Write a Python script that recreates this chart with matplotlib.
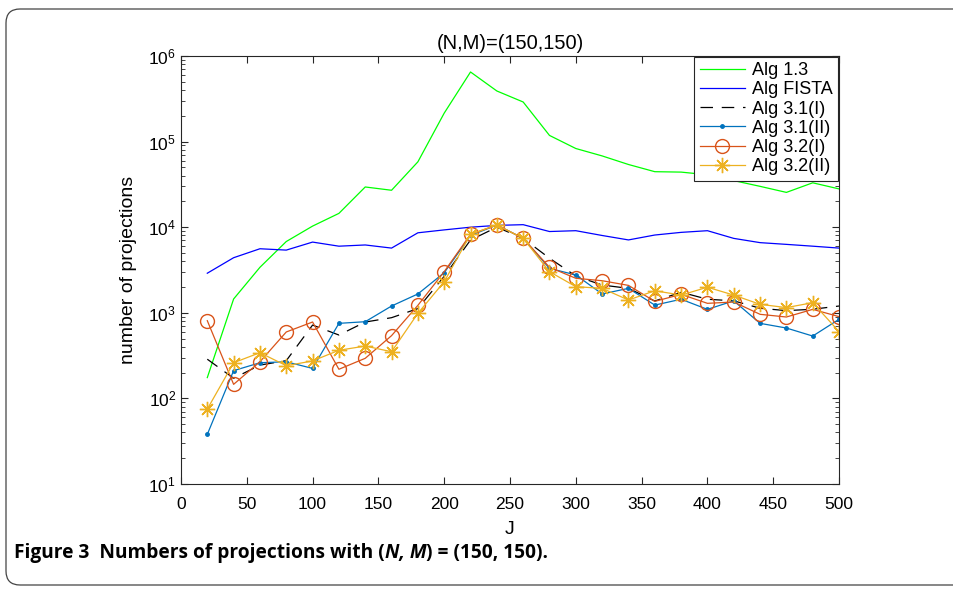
"""plot.py
Number of projections vs J for (N,M)=(150,150), log scale,
with the figure caption underneath.
"""

import matplotlib
matplotlib.use("Agg")
from matplotlib import pyplot as plt
from matplotlib.patches import FancyBboxPatch
from matplotlib.ticker import LogLocator, NullFormatter

# region data
J = [20, 40, 60, 80, 100, 120, 140, 160, 180, 200, 220, 240, 260,
     280, 300, 320, 340, 360, 380, 400, 420, 440, 460, 480, 500]

alg_13 = [175, 1450, 3400, 6800, 10300, 14500, 29500, 27000, 58000, 215000,
          650000, 390000, 290000, 118000, 83000, 68000, 54000, 44500, 44000,
          41000, 35000, 30000, 25500, 33000, 28000]
alg_fista = [2900, 4400, 5600, 5400, 6700, 6000, 6200, 5700, 8600, 9300,
             10000, 10500, 10700, 8900, 9100, 8000, 7100, 8100, 8700, 9100,
             7400, 6600, 6300, 6000, 5700]
alg_31_1 = [287, 172, 245, 276, 719, 550, 780, 877, 1120, 2670, 7080, 10000,
            7400, 4340, 2690, 2110, 1930, 1373, 1740, 1440, 1380, 1130, 1060,
            1100, 1200]
alg_31_2 = [38, 211, 261, 268, 224, 753, 787, 1200, 1660, 2940, 8000, 10600,
            7410, 3300, 2770, 1660, 1930, 1230, 1440, 1097, 1380, 753, 664,
            535, 840]
alg_32_1 = [809, 146, 268, 597, 781, 219, 294, 541, 1222, 3023, 8260, 10600,
            7410, 3400, 2530, 2370, 2090, 1360, 1643, 1290, 1337, 960, 893,
            1097, 902]
alg_32_2 = [75, 261, 342, 241, 274, 365, 409, 351, 986, 2306, 8260, 10600,
            7410, 3023, 2020, 1930, 1410, 1810, 1610, 1990, 1610, 1256, 1150,
            1313, 603]

labels = ["Alg 1.3", "Alg FISTA", "Alg 3.1(I)", "Alg 3.1(II)",
          "Alg 3.2(I)", "Alg 3.2(II)"]
x_ticks = [0, 50, 100, 150, 200, 250, 300, 350, 400, 450, 500]
# endregion

plt.rcParams['font.family'] = ['Liberation Sans', 'DejaVu Sans']
plt.rcParams['mathtext.fontset'] = 'custom'
plt.rcParams['mathtext.rm'] = 'Liberation Sans'
plt.rcParams['mathtext.it'] = 'Liberation Sans:italic'

fig = plt.figure(figsize=(9.54, 5.98), dpi=100)
ax = fig.add_axes([0.1897, 0.1906, 0.6898, 0.7158])

lw = 0.9
ax.plot(J, alg_13, color='#00ff00', lw=lw, label=labels[0])
ax.plot(J, alg_fista, color='#0000ff', lw=lw, label=labels[1])
ax.plot(J, alg_31_1, color='black', lw=lw, dashes=(10, 7), label=labels[2])
ax.plot(J, alg_31_2, color='#0072bd', lw=lw, marker='.', ms=5,
        label=labels[3])
ax.plot(J, alg_32_1, color='#d95319', lw=lw, marker='o', ms=10,
        mfc='none', mew=1.0, label=labels[4])
ax.plot(J, alg_32_2, color='#edb120', lw=lw, marker=(8, 2, 0), ms=11,
        mew=1.0, label=labels[5])

ax.set_yscale('log')
ax.set_xlim(0, 500)
ax.set_ylim(10, 1e6)
ax.set_xticks(x_ticks)
ax.yaxis.set_major_locator(LogLocator(base=10, numticks=10))
ax.yaxis.set_minor_locator(LogLocator(base=10, subs=range(2, 10), numticks=50))
ax.yaxis.set_minor_formatter(NullFormatter())

# matlab style box with inward ticks on all sides
ax.tick_params(which='both', direction='in', top=True, right=True,
               labelsize=12.5, color='#262626')
ax.tick_params(which='major', length=5, width=0.8)
ax.tick_params(which='minor', length=3, width=0.6)
ax.tick_params(axis='x', pad=9)
for s in ax.spines.values():
    s.set_color('#262626')
    s.set_linewidth(0.8)

ax.set_title("(N,M)=(150,150)", fontsize=14.5, pad=5)
ax.set_xlabel("J", fontsize=14, labelpad=7)
ax.set_ylabel("number of projections", fontsize=14, labelpad=8)

leg = ax.legend(loc='upper right', fontsize=13, handlelength=2.5,
                handletextpad=0.4, fancybox=False, borderaxespad=0.05,
                labelspacing=0.12, borderpad=0.3, framealpha=1)
leg.get_frame().set_edgecolor('#262626')
leg.get_frame().set_linewidth(0.8)

# outer rounded border, in pixels
border = FancyBboxPatch((6, 13), 970, 576, boxstyle="round,pad=0,rounding_size=14",
                        transform=None, fill=False, edgecolor='#444444', lw=0.9)
fig.patches.append(border)

# caption: bold text with italic N, M
fig.canvas.draw()
renderer = fig.canvas.get_renderer()
parts = [("Figure 3  Numbers of projections with (", 'normal'),
         ("N, M", 'italic'),
         (") = (150, 150).", 'normal')]
x = 14
for txt, style in parts:
    t = fig.text(x / 954, 1 - 553 / 598, txt, fontsize=13.8, weight='bold',
                 style=style, family=['Open Sans', 'DejaVu Sans'],
                 va='center', ha='left', transform=fig.transFigure)
    bb = t.get_window_extent(renderer)
    x += bb.width

fig.savefig("out.png", dpi=100)
